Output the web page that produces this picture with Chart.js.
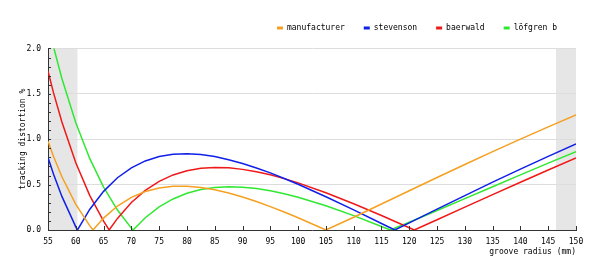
<!DOCTYPE html>
<html><head><meta charset="utf-8">
<script src="https://cdn.jsdelivr.net/npm/chart.js@4/dist/chart.umd.min.js"></script>
<style>html,body{margin:0;padding:0;background:#fff;overflow:hidden}#wrap{width:600px;height:261px;position:relative}</style>
</head><body><div id="wrap"><canvas id="c"></canvas></div>
<script>
// groove radius samples (mm)
const grooveRadius = [55,56,57.5,60,62.5,65,67.5,70,72.5,75,77.5,80,82.5,85,87.5,90,92.5,95,97.5,100,105,110,115,120,125,130,135,140,145,150];
// tracking distortion (%)
const manufacturer = [0.977,0.810,0.587,0.283,0.048,0.131,0.264,0.360,0.424,0.463,0.481,0.482,0.468,0.443,0.407,0.364,0.314,0.258,0.198,0.135,0.000,0.141,0.286,0.433,0.578,0.722,0.864,1.002,1.137,1.269];
const stevenson    = [0.798,0.615,0.370,0.035,0.226,0.426,0.576,0.685,0.761,0.809,0.834,0.840,0.831,0.809,0.775,0.733,0.684,0.629,0.568,0.504,0.367,0.222,0.072,0.079,0.230,0.379,0.527,0.671,0.812,0.949];
const baerwald     = [1.749,1.511,1.190,0.741,0.382,0.097,0.128,0.303,0.437,0.536,0.607,0.653,0.680,0.689,0.685,0.668,0.642,0.608,0.566,0.519,0.411,0.289,0.160,0.025,0.113,0.252,0.390,0.526,0.661,0.793];
const lofgrenB     = [2.274,2.017,1.670,1.182,0.789,0.473,0.220,0.021,0.135,0.254,0.342,0.405,0.446,0.469,0.477,0.472,0.456,0.432,0.399,0.360,0.267,0.158,0.039,0.086,0.215,0.346,0.477,0.607,0.737,0.864];
// null points (zero distortion radii)
const manufacturerNulls = [63.1, 105];
const stevensonNulls    = [60.3, 117.4];
const baerwaldNulls     = [66, 120.9];
const lofgrenBNulls     = [70.3, 116.6];
const seriesNames = ['manufacturer', 'stevenson', 'baerwald', 'löfgren b'];
// ticks
const xTickValues = [55,60,65,70,75,80,85,90,95,100,105,110,115,120,125,130,135,140,145,150];
const yTickValues = [0, 0.5, 1.0, 1.5, 2.0];
const yMinorStep = 0.1;
// shaded radius bands
const shadedBands = [[55, 60.3], [146.4, 150]];

const colors = ['#f5a020', '#1020e8', '#f01818', '#30e830'];
const FONT = {family: '"DejaVu Sans Mono", "Liberation Mono", monospace', size: 8};

function buildPoints(values, nulls) {
  const pts = grooveRadius.map((x, i) => ({x, y: values[i]}));
  nulls.forEach(n => { if (!grooveRadius.includes(n)) pts.push({x: n, y: 0}); });
  pts.sort((a, b) => a.x - b.x);
  return pts;
}
const seriesValues = [manufacturer, stevenson, baerwald, lofgrenB];
const seriesNulls = [manufacturerNulls, stevensonNulls, baerwaldNulls, lofgrenBNulls];

const decoPlugin = {
  id: 'deco',
  beforeLayout(chart) {
    const lg = chart.legend;
    if (lg && !lg._gapPatched) {
      const origFit = lg.fit;
      lg.fit = function () { origFit.call(this); this.height += 6.5; };
      lg._gapPatched = true;
    }
  },
  beforeDraw(chart) {
    const {ctx, chartArea: {top, bottom}, scales: {x}} = chart;
    ctx.save();
    ctx.fillStyle = '#e6e6e6';
    shadedBands.forEach(([a, b]) => {
      const x1 = x.getPixelForValue(a), x2 = x.getPixelForValue(b);
      ctx.fillRect(x1, top, x2 - x1, bottom - top);
    });
    ctx.restore();
  },
  afterDraw(chart) {
    const {ctx, chartArea: {left, bottom}, scales: {x, y}} = chart;
    ctx.save();
    ctx.strokeStyle = '#333';
    ctx.lineWidth = 1;
    ctx.beginPath();
    xTickValues.forEach(v => {
      const px = Math.round(x.getPixelForValue(v)) + 0.5;
      ctx.moveTo(px, bottom); ctx.lineTo(px, bottom - 4);
    });
    for (let v = 0; v <= 2.0001; v += yMinorStep) {
      const py = Math.round(y.getPixelForValue(v)) + 0.5;
      ctx.moveTo(left, py); ctx.lineTo(left + 3, py);
    }
    ctx.stroke();
    ctx.restore();
  }
};

new Chart(document.getElementById('c'), {
  type: 'line',
  data: {
    datasets: seriesNames.map((name, i) => ({
      label: name,
      data: buildPoints(seriesValues[i], seriesNulls[i]),
      borderColor: colors[i],
      backgroundColor: colors[i],
      borderWidth: 1.5,
      pointRadius: 0,
      tension: 0,
      fill: false
    }))
  },
  options: {
    responsive: true,
    maintainAspectRatio: false,
    animation: false,
    events: [],
    layout: {padding: {top: 5, right: 24, bottom: 4, left: 18}},
    plugins: {
      legend: {
        position: 'top',
        align: 'end',
        labels: {
          font: FONT,
          color: '#000',
          boxWidth: 6,
          boxHeight: 3,
          padding: 19,
          generateLabels(chart) {
            return Chart.defaults.plugins.legend.labels.generateLabels(chart).map(l => ({...l, lineWidth: 0}));
          }
        }
      },
      tooltip: {enabled: false}
    },
    scales: {
      x: {
        type: 'linear',
        min: 55, max: 150,
        afterBuildTicks(scale) { scale.ticks = xTickValues.map(v => ({value: v})); },
        afterFit(scale) { scale.height = 27; },
        grid: {display: false, drawTicks: false},
        border: {display: true, color: '#333', width: 1},
        ticks: {font: FONT, color: '#000', padding: 7, maxRotation: 0, autoSkip: false},
        title: {display: true, text: 'groove radius (mm)', align: 'end', font: FONT, color: '#000', padding: {top: 0, bottom: 0}}
      },
      y: {
        type: 'linear',
        min: 0, max: 2,
        afterBuildTicks(scale) { scale.ticks = yTickValues.map(v => ({value: v})); },
        afterFit(scale) { scale.width = 30; },
        grid: {color: '#dddddd', drawTicks: false, lineWidth: 1},
        border: {display: true, color: '#333', width: 1},
        ticks: {font: FONT, color: '#000', padding: 7, callback: v => Number(v).toFixed(1)},
        title: {display: true, text: 'tracking distortion %', font: FONT, color: '#000', padding: {top: 0, bottom: 0}}
      }
    }
  },
  plugins: [decoPlugin]
});
</script>
</body></html>
